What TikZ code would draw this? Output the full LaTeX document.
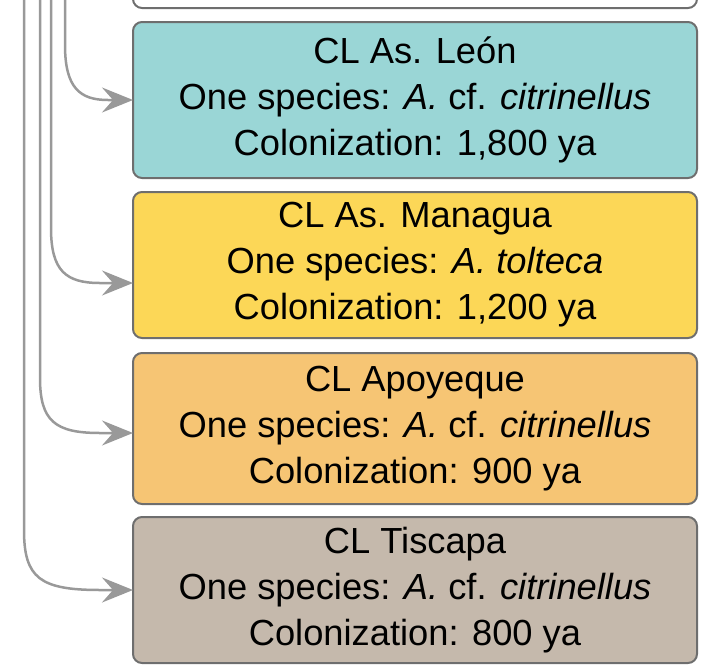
\documentclass[tikz,border=0pt]{standalone}
\usepackage{fontspec}
\setmainfont{Liberation Sans}
\usetikzlibrary{arrows.meta}
\definecolor{cteal}{RGB}{154,214,214}
\definecolor{cyellow}{RGB}{252,215,87}
\definecolor{corange}{RGB}{246,197,116}
\definecolor{ctaupe}{RGB}{197,185,172}
\definecolor{cborder}{RGB}{110,110,110}
\definecolor{carrow}{RGB}{153,153,153}
\begin{document}
\begin{tikzpicture}[x=1pt,y=-1pt,
  cbox/.style={draw=cborder, line width=2pt, rounded corners=9pt, minimum width=564pt,
    inner sep=0pt, outer sep=0pt, align=center, font=\fontsize{36.3}{46}\selectfont, text=black},
  conn/.style={draw=carrow, line width=2.5pt, -{Stealth[length=31pt,width=25pt,inset=11pt]}}]
\useasboundingbox (0,0) rectangle (726,665);
\clip (0,0) rectangle (726,665);
% partial box above
\draw[draw=cborder, line width=2pt, rounded corners=9pt] (133,-40) rectangle (697,8);
% boxes
\node[cbox, fill=cteal, minimum height=156pt] (leon) at (415,100)
  {CL As. León\\One species: \textit{A.} cf. \textit{citrinellus}\\Colonization: 1,800 ya};
\node[cbox, fill=cyellow, minimum height=146pt] (managua) at (415,265)
  {CL As. Managua\\One species: \textit{A. tolteca}\\Colonization: 1,200 ya};
\node[cbox, fill=corange, minimum height=151pt] (apoyeque) at (415,428.5)
  {CL Apoyeque\\One species: \textit{A.} cf. \textit{citrinellus}\\Colonization: 900 ya};
\node[cbox, fill=ctaupe, minimum height=146pt] (tiscapa) at (415,590)
  {CL Tiscapa\\One species: \textit{A.} cf. \textit{citrinellus}\\Colonization: 800 ya};
% connectors
\coordinate (s1) at (24,0);
\coordinate (s2) at (40,0);
\coordinate (s3) at (51,0);
\coordinate (s4) at (65,0);
\draw[conn] (s4) -- (65,45) .. controls (65,88) and (80,100) .. (108,100) -- (leon.west);
\draw[conn] (s3) -- (51,228) .. controls (51,271) and (66,283) .. (100,283) -- ([yshift=-18pt]managua.west);
\draw[conn] (s2) -- (40,378) .. controls (40,421) and (55,433) .. (100,433) -- ([yshift=-4.5pt]apoyeque.west);
\draw[conn] (s1) -- (24,530) .. controls (24,578) and (40,590) .. (100,590) -- (tiscapa.west);
\end{tikzpicture}
\end{document}
